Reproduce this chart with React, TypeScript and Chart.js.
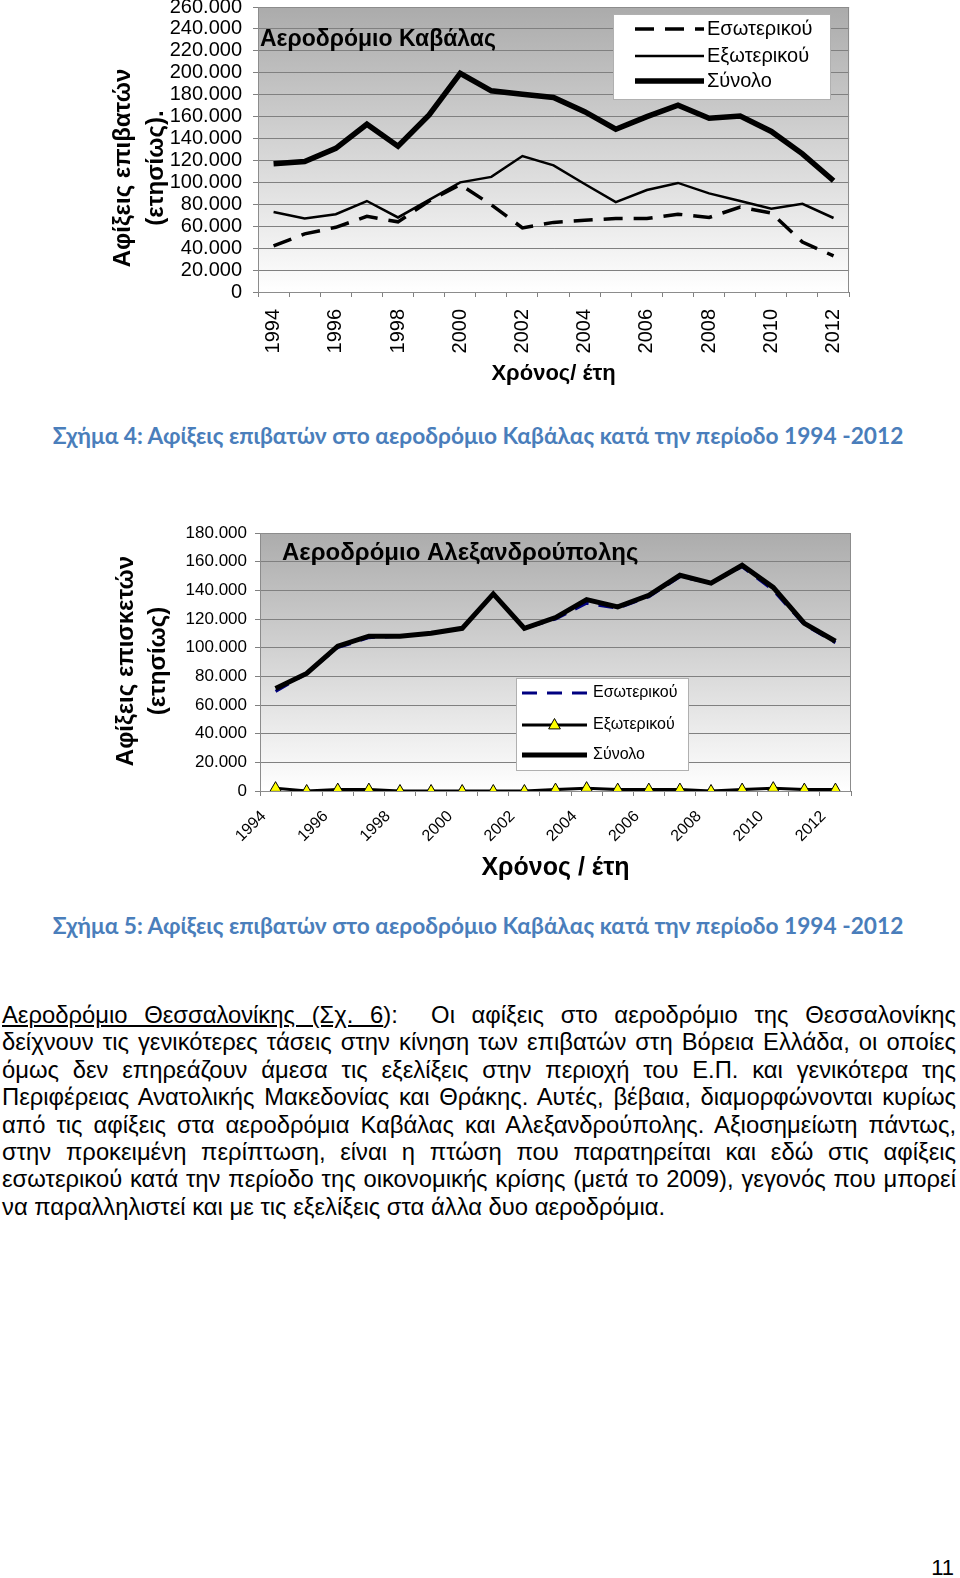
import React, { useEffect, useRef } from 'react';
import { Chart, registerables } from 'chart.js';

Chart.register(...registerables);

// ---------- DATA ----------
const years = ['1994', '1995', '1996', '1997', '1998', '1999', '2000', '2001', '2002', '2003', '2004', '2005', '2006', '2007', '2008', '2009', '2010', '2011', '2012'];

// Αεροδρόμιο Καβάλας
const kavalaDomestic = [42000, 53000, 59000, 69000, 64000, 83000, 98000, 79500, 58500, 63500, 65500, 67000, 67000, 71000, 68000, 77500, 72000, 45500, 33000];
const kavalaInternational = [73000, 67000, 71000, 83000, 68000, 84000, 100000, 105000, 124000, 115500, 98500, 82000, 93000, 99500, 90000, 83000, 76000, 80500, 67500];
const kavalaTotal = [117000, 119000, 131000, 153000, 133000, 161500, 199500, 183500, 180500, 177500, 164500, 148500, 160000, 170500, 158500, 160500, 146500, 126000, 101500];

// Αεροδρόμιο Αλεξανδρούπολης
const alexDomestic = [69500, 82000, 100000, 107000, 108000, 110000, 113500, 137500, 113500, 120000, 131000, 127500, 135500, 149500, 145000, 156500, 140000, 116000, 103500];
const alexInternational = [2000, 0, 1000, 1000, 0, 0, 0, 0, 0, 1000, 2000, 1000, 1000, 1000, 0, 1000, 2000, 1000, 1000];
const alexTotal = [71500, 82000, 101000, 108000, 108000, 110000, 113500, 137500, 113500, 121000, 133500, 128500, 136500, 150500, 145000, 157500, 142000, 117000, 104500];

const seriesLabels = ['Εσωτερικού', 'Εξωτερικού', 'Σύνολο'];
const kavalaMax = 260000;
const alexMax = 180000;
const yStep = 20000;

const paragraphLines = [
  'δείχνουν τις γενικότερες τάσεις στην κίνηση των επιβατών στη Βόρεια Ελλάδα, οι οποίες',
  'όμως δεν επηρεάζουν άμεσα τις εξελίξεις στην περιοχή του Ε.Π. και γενικότερα της',
  'Περιφέρειας Ανατολικής Μακεδονίας και Θράκης. Αυτές, βέβαια, διαμορφώνονται κυρίως',
  'από τις αφίξεις στα αεροδρόμια Καβάλας και Αλεξανδρούπολης. Αξιοσημείωτη πάντως,',
  'στην προκειμένη περίπτωση, είναι η πτώση που παρατηρείται και εδώ στις αφίξεις',
  'εσωτερικού κατά την περίοδο της οικονομικής κρίσης (μετά το 2009), γεγονός που μπορεί',
  'να παραλληλιστεί και με τις εξελίξεις στα άλλα δυο αεροδρόμια.',
];

// ---------- HELPERS ----------
const SANS = "'Liberation Sans', Arial, sans-serif";

const fmt = (v: number) => String(v).replace(/\B(?=(\d{3})+(?!\d))/g, '.');

const decor = {
  id: 'decor',
  beforeDraw(chart: any, _args: any, opts: any) {
    const { ctx, chartArea: a } = chart;
    const g = ctx.createLinearGradient(0, a.top, 0, a.bottom);
    g.addColorStop(0, opts.topColor);
    g.addColorStop(1, '#ffffff');
    ctx.save();
    ctx.fillStyle = g;
    ctx.fillRect(a.left, a.top, a.right - a.left, a.bottom - a.top);
    ctx.restore();
  },
  afterDraw(chart: any, _args: any, opts: any) {
    const { ctx, chartArea: a } = chart;
    ctx.save();
    ctx.strokeStyle = '#8c8c8c';
    ctx.lineWidth = 1;
    ctx.strokeRect(Math.round(a.left) + 0.5, Math.round(a.top) + 0.5, Math.round(a.right - a.left) - 1, Math.round(a.bottom - a.top));
    // chart title
    ctx.font = opts.titleFont;
    ctx.fillStyle = '#000';
    ctx.textAlign = 'left';
    ctx.textBaseline = 'middle';
    ctx.fillText(opts.title, opts.titleX, opts.titleY);
    // y axis title (rotated, two lines)
    const T = opts.yTitle;
    ctx.font = T.font;
    ctx.textAlign = 'center';
    T.lines.forEach((line: string, i: number) => {
      ctx.save();
      ctx.translate(T.xs[i], T.cy);
      ctx.rotate(-Math.PI / 2);
      ctx.fillText(line, 0, 0);
      ctx.restore();
    });
    // legend
    const L = opts.legend;
    ctx.fillStyle = '#ffffff';
    ctx.fillRect(L.x, L.y, L.w, L.h);
    ctx.strokeStyle = '#b0b0b0';
    ctx.strokeRect(L.x + 0.5, L.y + 0.5, L.w, L.h);
    ctx.font = L.font;
    chart.data.datasets.forEach((ds: any, i: number) => {
      const y = L.rows[i];
      ctx.save();
      ctx.strokeStyle = ds.borderColor;
      ctx.lineWidth = ds.borderWidth;
      ctx.setLineDash(ds.borderDash || []);
      ctx.beginPath();
      ctx.moveTo(L.sx1, y);
      ctx.lineTo(L.sx2, y);
      ctx.stroke();
      ctx.restore();
      if (ds.pointStyle === 'triangle' && ds.pointRadius > 0) {
        const cx = (L.sx1 + L.sx2) / 2;
        const r = ds.pointRadius;
        ctx.save();
        ctx.beginPath();
        ctx.moveTo(cx, y - r);
        ctx.lineTo(cx + r * 0.9, y + r * 0.6);
        ctx.lineTo(cx - r * 0.9, y + r * 0.6);
        ctx.closePath();
        ctx.fillStyle = ds.pointBackgroundColor;
        ctx.fill();
        ctx.strokeStyle = '#000';
        ctx.lineWidth = 1;
        ctx.stroke();
        ctx.restore();
      }
      ctx.fillStyle = '#000';
      ctx.textAlign = 'left';
      ctx.textBaseline = 'middle';
      ctx.fillText(ds.label, L.tx, y);
    });
    ctx.restore();
  },
};

function KavalaChart() {
  const ref = useRef<HTMLCanvasElement>(null);
  useEffect(() => {
    const chart = new Chart(ref.current!, {
      type: 'line',
      data: {
        labels: years,
        datasets: [
          { label: seriesLabels[0], data: kavalaDomestic, borderColor: '#000', borderWidth: 3.5, borderDash: [19, 11], pointRadius: 0, tension: 0, order: 2 },
          { label: seriesLabels[1], data: kavalaInternational, borderColor: '#000', borderWidth: 2.5, pointRadius: 0, tension: 0, order: 1 },
          { label: seriesLabels[2], data: kavalaTotal, borderColor: '#000', borderWidth: 5.5, pointRadius: 0, tension: 0, order: 0 },
        ],
      },
      plugins: [decor],
      options: {
        animation: false,
        responsive: false,
        layout: { padding: { top: 23, right: 17, bottom: 0, left: 0 } },
        plugins: {
          legend: { display: false },
          tooltip: { enabled: false },
          decor: {
            topColor: '#ababab',
            title: 'Αεροδρόμιο Καβάλας',
            titleFont: `bold 23px ${SANS}`,
            titleX: 160,
            titleY: 56,
            yTitle: { lines: ['Αφίξεις επιβατών', '(ετησίως).'], xs: [23, 56], cy: 184, font: `bold 24px ${SANS}` },
            legend: { x: 513, y: 30, w: 217, h: 85, rows: [45, 72, 97], sx1: 535, sx2: 604, tx: 607, font: `20px ${SANS}` },
          },
        } as any,
        scales: {
          x: {
            offset: true,
            grid: { offset: true, drawOnChartArea: false, tickLength: 5, color: '#808080' },
            border: { color: '#808080' },
            ticks: {
              autoSkip: false,
              minRotation: 90,
              maxRotation: 90,
              padding: 12,
              color: '#000',
              font: { family: SANS, size: 20 },
              callback: (_v: any, i: number) => (i % 2 === 0 ? years[i] : ''),
            },
            title: { display: true, text: 'Χρόνος/ έτη', color: '#000', font: { family: SANS, size: 22, weight: 'bold' }, padding: { top: 0, bottom: 13 } },
            afterFit: (s: any) => { s.height = 108; },
          },
          y: {
            min: 0,
            max: kavalaMax,
            grid: { color: '#808080', tickLength: 5 },
            border: { color: '#808080' },
            ticks: { stepSize: yStep, autoSkip: false, padding: 11, color: '#000', font: { family: SANS, size: 20 }, callback: (v: any) => fmt(Number(v)) },
            afterFit: (s: any) => { s.width = 158; },
          },
        },
      } as any,
    });
    return () => chart.destroy();
  }, []);
  return <canvas ref={ref} width={770} height={416} style={{ position: 'absolute', left: 100, top: -16 }} />;
}

function AlexChart() {
  const ref = useRef<HTMLCanvasElement>(null);
  useEffect(() => {
    const chart = new Chart(ref.current!, {
      type: 'line',
      data: {
        labels: years,
        datasets: [
          { label: seriesLabels[0], data: alexDomestic, borderColor: '#000080', borderWidth: 3, borderDash: [15, 10], pointRadius: 0, tension: 0, order: 2 },
          { label: seriesLabels[1], data: alexInternational, borderColor: '#000', borderWidth: 3, pointStyle: 'triangle', pointRadius: 6.5, pointBackgroundColor: '#ffff00', pointBorderColor: '#000', pointBorderWidth: 1, tension: 0, order: 0 },
          { label: seriesLabels[2], data: alexTotal, borderColor: '#000', borderWidth: 5, pointRadius: 0, tension: 0, order: 1 },
        ],
      },
      plugins: [decor],
      options: {
        animation: false,
        responsive: false,
        layout: { padding: { top: 33, right: 19, bottom: 0, left: 0 } },
        plugins: {
          legend: { display: false },
          tooltip: { enabled: false },
          decor: {
            topColor: '#acacac',
            title: 'Αεροδρόμιο Αλεξανδρούπολης',
            titleFont: `bold 24px ${SANS}`,
            titleX: 182,
            titleY: 53,
            yTitle: { lines: ['Αφίξεις επισκετών', '(ετησίως)'], xs: [26, 58], cy: 161, font: `bold 24px ${SANS}` },
            legend: { x: 416, y: 178, w: 172, h: 92, rows: [193, 225, 255], sx1: 422, sx2: 487, tx: 493, font: `16px ${SANS}` },
          },
        } as any,
        scales: {
          x: {
            offset: true,
            grid: { offset: true, drawOnChartArea: false, tickLength: 5, color: '#808080' },
            border: { color: '#808080' },
            ticks: {
              autoSkip: false,
              minRotation: 45,
              maxRotation: 45,
              padding: 11,
              labelOffset: -12,
              color: '#000',
              font: { family: SANS, size: 16 },
              callback: (_v: any, i: number) => (i % 2 === 0 ? years[i] : ''),
            },
            title: { display: true, text: 'Χρόνος / έτη', color: '#000', font: { family: SANS, size: 25, weight: 'bold' }, padding: { top: 0, bottom: 17 } },
            afterFit: (s: any) => { s.height = 109; },
          },
          y: {
            min: 0,
            max: alexMax,
            grid: { color: '#808080', tickLength: 5 },
            border: { color: '#808080' },
            ticks: { stepSize: yStep, autoSkip: false, padding: 8, color: '#000', font: { family: SANS, size: 17 }, callback: (v: any) => fmt(Number(v)) },
            afterFit: (s: any) => { s.width = 160; },
          },
        },
      } as any,
    });
    return () => chart.destroy();
  }, []);
  return <canvas ref={ref} width={770} height={400} style={{ position: 'absolute', left: 100, top: 500 }} />;
}

const captionStyle: React.CSSProperties = {
  position: 'absolute',
  left: 0,
  width: 956,
  textAlign: 'center',
  fontFamily: "Lato, 'Liberation Sans', sans-serif",
  fontWeight: 700,
  fontSize: 22.7,
  lineHeight: '26px',
  color: '#4a7ebb',
  whiteSpace: 'nowrap',
};

export default function App() {
  return (
    <div style={{ position: 'absolute', left: 0, top: 0, width: 960, height: 1578, background: '#fff', overflow: 'hidden' }}>
      <KavalaChart />
      <div style={{ ...captionStyle, top: 423 }}>Σχήμα 4: Αφίξεις επιβατών στο αεροδρόμιο Καβάλας κατά την περίοδο 1994 -2012</div>
      <AlexChart />
      <div style={{ ...captionStyle, top: 913 }}>Σχήμα 5: Αφίξεις επιβατών στο αεροδρόμιο Καβάλας κατά την περίοδο 1994 -2012</div>
      <div style={{ position: 'absolute', left: 2, top: 1001, width: 954, fontFamily: SANS, fontSize: 23.8, lineHeight: '27.4px', color: '#000' }}>
        <div style={{ textAlign: 'justify', textAlignLast: 'justify', whiteSpace: 'nowrap' as any }}>
          <span style={{ textDecoration: 'underline' }}>Αεροδρόμιο Θεσσαλονίκης (Σχ. 6</span>):&nbsp; Οι αφίξεις στο αεροδρόμιο της Θεσσαλονίκης
        </div>
        {paragraphLines.map((t, i) => (
          <div key={i} style={{ textAlign: 'justify', textAlignLast: i < paragraphLines.length - 1 ? 'justify' : 'left', whiteSpace: 'nowrap' }}>{t}</div>
        ))}
      </div>
      <div style={{ position: 'absolute', right: 6, top: 1555, fontFamily: SANS, fontSize: 22, color: '#000' }}>11</div>
    </div>
  );
}
